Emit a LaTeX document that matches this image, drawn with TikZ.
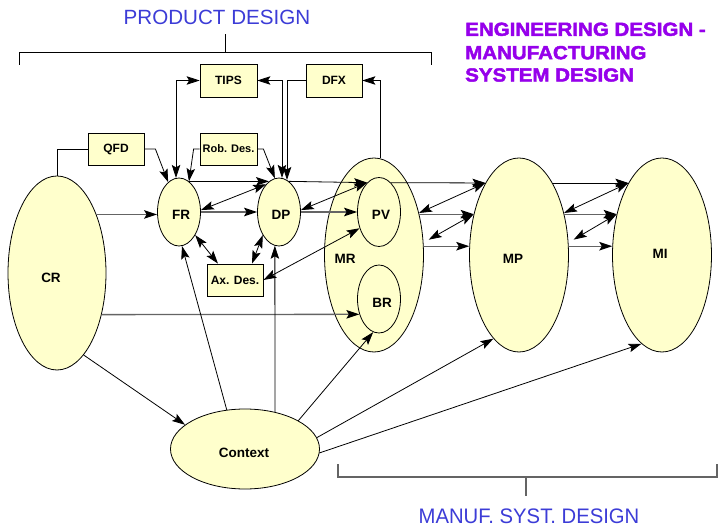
\documentclass[tikz,border=0pt]{standalone}
\usepackage{fontspec}
\setmainfont{Liberation Sans}
\newfontfamily\purplefont[FakeStretch=1.08,FakeBold=2.2]{Liberation Sans Bold}
\newfontfamily\condfont[FakeStretch=0.965]{Liberation Sans}
\usetikzlibrary{shapes.geometric,arrows.meta}
\definecolor{fillY}{RGB}{255,255,204}
\definecolor{titleblue}{RGB}{60,60,215}
\definecolor{titlepurple}{RGB}{150,0,235}
\definecolor{lgray}{RGB}{100,100,100}
\begin{document}
\begin{tikzpicture}[x=1pt,y=-1pt,
  ell/.style={ellipse, draw=black, fill=fillY, line width=0.8pt, inner sep=0pt},
  box/.style={rectangle, draw=black, fill=fillY, line width=0.8pt, inner sep=0pt,
    font=\bfseries\fontsize{12}{14}\selectfont},
  lbl/.style={font=\bfseries\fontsize{13.5}{16}\selectfont, inner sep=0pt},
  ln/.style={line width=0.8pt},
  tip/.tip={Stealth[length=13pt,width=8.5pt,inset=2.5pt,color=black]},
  arr/.style={line width=0.8pt, -tip},
  garr/.style={line width=1.3pt, draw=lgray, -tip},
  biarr/.style={line width=0.8pt, tip-tip}
]
\path[fill=white] (0,0) rectangle (718,529);
\useasboundingbox (0,0) rectangle (718,529);

% titles
\node[font=\fontsize{20.6}{24}\selectfont, text=titleblue, inner sep=0pt] (tPD) at (217,17.5) {PRODUCT DESIGN};
\node[anchor=west, inner sep=0pt, font=\purplefont\fontsize{19}{23}\selectfont, text=titlepurple] (tE1) at (465,29.3) {ENGINEERING DESIGN -};
\node[anchor=west, inner sep=0pt, font=\purplefont\fontsize{19}{23}\selectfont, text=titlepurple] (tE2) at (465,52.7) {MANUFACTURING};
\node[anchor=west, inner sep=0pt, font=\purplefont\fontsize{19}{23}\selectfont, text=titlepurple] (tE3) at (465,75) {SYSTEM DESIGN};
\node[font=\condfont\fontsize{21}{24}\selectfont, text=titleblue, inner sep=0pt] (tMS) at (529,516) {MANUF. SYST. DESIGN};

% brackets
\draw[ln] (19,65) -- (19,52) -- (431,52) -- (431,65);
\draw[ln] (225,52) -- (225,34);
\draw[line width=1.1pt, draw=lgray] (338,464) -- (338,477) -- (717,477) -- (717,464);
\draw[line width=1.1pt, draw=lgray] (526,477) -- (526,496);

% ellipses
\node[ell, minimum width=98pt, minimum height=194pt] (CR) at (57,273) {};
\node[ell, minimum width=99pt, minimum height=194pt] (MR) at (374,255) {};
\node[ell, minimum width=43pt, minimum height=69pt] (PV) at (379,212) {};
\node[ell, minimum width=43pt, minimum height=68pt] (BR) at (379,299) {};
\node[ell, minimum width=99pt, minimum height=194pt] (MP) at (519,255) {};
\node[ell, minimum width=99pt, minimum height=194pt] (MI) at (662,255) {};
\node[ell, minimum width=43pt, minimum height=68pt] (FR) at (179,212) {};
\node[ell, minimum width=43pt, minimum height=68pt] (DP) at (279,212) {};
\node[ell, minimum width=149pt, minimum height=80pt] (CTX) at (245,449) {};

% ellipse labels
\node[lbl] (tCR) at (51,278) {CR};
\node[lbl] (tFR) at (181,215) {FR};
\node[lbl] (tDP) at (281,215) {DP};
\node[lbl] (tPV) at (381,215) {PV};
\node[lbl] (tBR) at (382,303) {BR};
\node[lbl] (tMR) at (345,259) {MR};
\node[lbl] (tMP) at (513,259) {MP};
\node[lbl] (tMI) at (660,254) {MI};
\node[lbl] (tCTX) at (244,453) {Context};

% boxes
\node[box, minimum width=57pt, minimum height=33pt] (TIPS) at (228.5,80.5) {TIPS};
\node[box, minimum width=56pt, minimum height=33pt] (DFX) at (334,80.5) {DFX};
\node[box, minimum width=56pt, minimum height=32pt] (QFD) at (116,149) {QFD};
\node[box, minimum width=57pt, minimum height=32pt, font=\bfseries\fontsize{11}{13}\selectfont] (ROB) at (228.5,149) {Rob. Des.};
\node[box, minimum width=56pt, minimum height=32pt] (AX) at (235,280) {Ax. Des.};

% top connectors
\draw[ln] (CR.north) |- (QFD.west);
\draw[arr] (QFD.east) -- ++(11,0) -- (FR.110);
\draw[biarr] (FR.95) |- (TIPS.west);
\draw[arr] (ROB.west) -- ++(-6,0) -- (FR.72);
\draw[arr] (ROB.east) -- ++(6,0) -- (DP.97);
\draw[biarr] (TIPS.east) -| (DP.85);
\draw[arr] (DFX.west) -| (DP.76);
\draw[arr] (MR.86) |- (DFX.east);

% row 1
\draw[arr] (FR.72) -- (DP.108);
\draw[arr] (DP.72) -- (PV.112);
\draw[arr] (PV.68) -- (MP.115);
\draw[arr] (MP.65) -- (MI.115);
\draw[biarr] (DP.115) -- (FR.5);
\draw[biarr] (PV.112) -- (DP.5);
\draw[biarr] (MP.115) -- (MR.43);
\draw[biarr] (MI.115) -- (MP.43);

% row 2
\draw[garr] (CR.56) -- (CR.56 -| FR.west);
\draw[garr] (FR.east) -- (DP.west);
\draw[garr] (DP.east) -- (PV.west);
\draw[garr] (MR.42) -- (MP.138);
\draw[garr] (MP.42) -- (MI.138);
\draw[biarr, shorten >=6pt] (MP.138) -- (MR.14);
\draw[biarr, shorten >=6pt] (MI.138) -- (MP.14);

% row 3
\draw[garr] (MR.10) -- (MP.170);
\draw[garr] (MP.10) -- (MI.170);

% axiomatic design links
\draw[biarr] (PV.220) -- (AX.east);
\draw[biarr] (FR.305) -- ([xshift=-17pt]AX.north);
\draw[biarr] (DP.235) -- ([xshift=17pt]AX.north);

% CR to BR
\draw[garr] (CR.317) -- (BR.218);

% context links
\draw[arr] (CR.288) -- (CTX.158);
\draw[arr] (CTX.115) -- (FR.275);
\draw[arr] (CTX.51) -- (DP.263);
\draw[arr] (CTX.28) -- (BR.260);
\draw[arr] (CTX.9) -- (MP.253);
\draw[arr] (CTX.357) -- (MI.257);
\end{tikzpicture}
\end{document}
